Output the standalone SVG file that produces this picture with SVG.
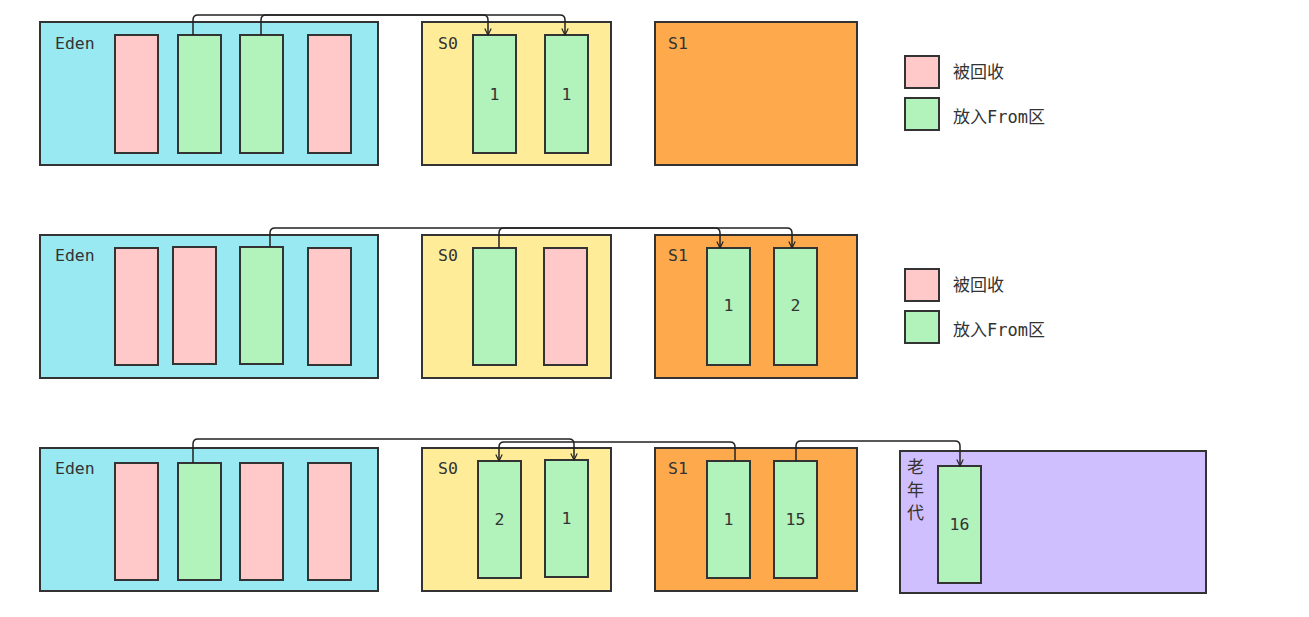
<svg xmlns="http://www.w3.org/2000/svg" width="1309" height="617" viewBox="0 0 1309 617">
<style>
.box{stroke:#333;stroke-width:2}
.eden{fill:#99e9f2}
.s0{fill:#ffec99}
.s1{fill:#ffa94d}
.old{fill:#d0bfff}
.red{fill:#ffc9c9;stroke:#333;stroke-width:2}
.green{fill:#b2f2bb;stroke:#333;stroke-width:2}
text{font-family:"DejaVu Sans Mono","Noto Sans CJK SC",monospace;font-size:16.5px;fill:#333}
.c{text-anchor:middle;dominant-baseline:central}
.cn{font-family:"DejaVu Sans Mono","Noto Sans CJK SC",monospace;font-size:17px}
.conn path{fill:none;stroke:#222;stroke-width:1.5;marker-end:url(#ah)}
</style>
<defs>
<marker id="ah" viewBox="0 0 10 10" refX="9" refY="5" markerWidth="8" markerHeight="8" orient="auto" markerUnits="userSpaceOnUse">
<path d="M1,1 L9,5 L1,9" fill="none" stroke="#222" stroke-width="1.5"/>
</marker>
</defs>
<rect width="1309" height="617" fill="#fff"/>

<!-- Row 1 -->
<g id="eden1">
<rect class="box eden" x="40" y="22" width="338" height="143"/>
<text x="55" y="49">Eden</text>
<rect class="red" x="115" y="35" width="43" height="118"/>
<rect class="green" x="178" y="35" width="43" height="118"/>
<rect class="green" x="240" y="35" width="43" height="118"/>
<rect class="red" x="308" y="35" width="43" height="118"/>
</g>
<g id="s0_1">
<rect class="box s0" x="422" y="22" width="189" height="143"/>
<text x="438" y="49">S0</text>
<rect class="green" x="473" y="35" width="43" height="118"/>
<text class="c" x="494.5" y="94">1</text>
<rect class="green" x="545" y="35" width="43" height="118"/>
<text class="c" x="566.5" y="94">1</text>
</g>
<g id="s1_1">
<rect class="box s1" x="655" y="22" width="202" height="143"/>
<text x="668" y="49">S1</text>
</g>
<g id="legend1">
<rect class="red" x="905" y="56" width="34" height="32"/>
<text class="cn" x="953" y="78">被回收</text>
<rect class="green" x="905" y="98" width="34" height="32"/>
<text class="cn" x="953" y="123">放入From区</text>
</g>

<!-- Row 2 -->
<g id="eden2">
<rect class="box eden" x="40" y="235" width="338" height="143"/>
<text x="55" y="261">Eden</text>
<rect class="red" x="115" y="248" width="43" height="117"/>
<rect class="red" x="173" y="247" width="43" height="117"/>
<rect class="green" x="240" y="247" width="43" height="117"/>
<rect class="red" x="308" y="248" width="43" height="117"/>
</g>
<g id="s0_2">
<rect class="box s0" x="422" y="235" width="189" height="143"/>
<text x="438" y="261">S0</text>
<rect class="green" x="473" y="248" width="43" height="117"/>
<rect class="red" x="544" y="248" width="43" height="117"/>
</g>
<g id="s1_2">
<rect class="box s1" x="655" y="235" width="202" height="143"/>
<text x="668" y="261">S1</text>
<rect class="green" x="707" y="248" width="43" height="117"/>
<text class="c" x="728.5" y="305">1</text>
<rect class="green" x="774" y="248" width="43" height="117"/>
<text class="c" x="795.5" y="305">2</text>
</g>
<g id="legend2">
<rect class="red" x="905" y="269" width="34" height="32"/>
<text class="cn" x="953" y="291">被回收</text>
<rect class="green" x="905" y="311" width="34" height="32"/>
<text class="cn" x="953" y="336">放入From区</text>
</g>

<!-- Row 3 -->
<g id="eden3">
<rect class="box eden" x="40" y="448" width="338" height="143"/>
<text x="55" y="474">Eden</text>
<rect class="red" x="115" y="463" width="43" height="117"/>
<rect class="green" x="178" y="463" width="43" height="117"/>
<rect class="red" x="240" y="463" width="43" height="117"/>
<rect class="red" x="308" y="463" width="43" height="117"/>
</g>
<g id="s0_3">
<rect class="box s0" x="422" y="448" width="189" height="143"/>
<text x="438" y="474">S0</text>
<rect class="green" x="478" y="461" width="43" height="117"/>
<text class="c" x="499.5" y="519">2</text>
<rect class="green" x="545" y="460" width="43" height="117"/>
<text class="c" x="566.5" y="518">1</text>
</g>
<g id="s1_3">
<rect class="box s1" x="655" y="448" width="202" height="143"/>
<text x="668" y="474">S1</text>
<rect class="green" x="707" y="461" width="43" height="117"/>
<text class="c" x="728.5" y="519">1</text>
<rect class="green" x="774" y="461" width="43" height="117"/>
<text class="c" x="795.5" y="519">15</text>
</g>
<g id="old3">
<rect class="box old" x="900" y="451" width="306" height="142"/>
<text class="cn" x="907" y="473">老</text>
<text class="cn" x="907" y="496">年</text>
<text class="cn" x="907" y="519">代</text>
<rect class="green" x="938" y="466" width="43" height="117"/>
<text class="c" x="959.5" y="524">16</text>
</g>

<g id="connectors" class="conn">
<path d="M193,35 V20 Q193,15 198,15 H483 Q488,15 488,20 V35"/>
<path d="M261,35 V20 Q261,15 266,15 H560 Q565,15 565,20 V35"/>
<path d="M270,247 V233 Q270,228 275,228 H715 Q720,228 720,233 V248"/>
<path d="M499,248 V233 Q499,228 504,228 H787 Q792,228 792,233 V248"/>
<path d="M193,463 V444 Q193,439 198,439 H569 Q574,439 574,444 V460"/>
<path d="M735,461 V447 Q735,442 730,442 H504 Q499,442 499,447 V461"/>
<path d="M796,461 V446 Q796,441 801,441 H955 Q960,441 960,446 V466"/>
</g>
</svg>
